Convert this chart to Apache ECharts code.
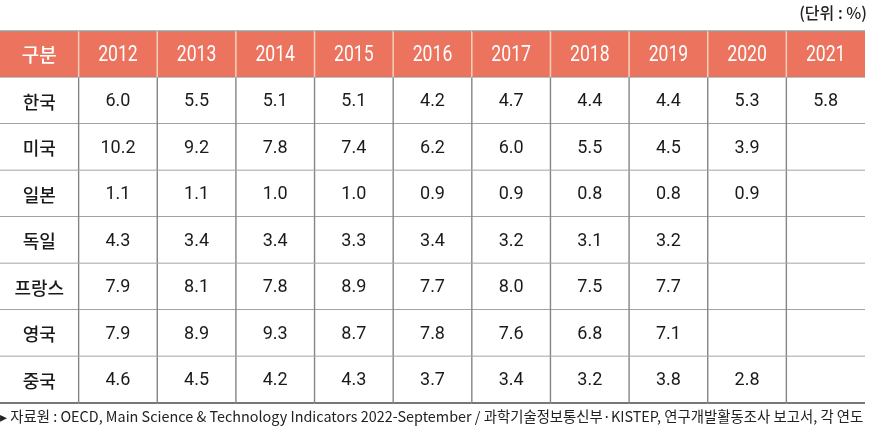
<!DOCTYPE html>
<html><head><meta charset="utf-8">
<script src="https://cdn.jsdelivr.net/npm/echarts@6/dist/echarts.min.js"></script>
<style>html,body{margin:0;padding:0;background:#fff}#c{width:878px;height:438px}</style>
</head><body><div id="c"></div>
<script>
var headerLabel = '구분';
var years = ['2012','2013','2014','2015','2016','2017','2018','2019','2020','2021'];
var countries = ['한국','미국','일본','독일','프랑스','영국','중국'];
var korea   = [6.0, 5.5, 5.1, 5.1, 4.2, 4.7, 4.4, 4.4, 5.3, 5.8];
var usa     = [10.2, 9.2, 7.8, 7.4, 6.2, 6.0, 5.5, 4.5, 3.9, null];
var japan   = [1.1, 1.1, 1.0, 1.0, 0.9, 0.9, 0.8, 0.8, 0.9, null];
var germany = [4.3, 3.4, 3.4, 3.3, 3.4, 3.2, 3.1, 3.2, null, null];
var france  = [7.9, 8.1, 7.8, 8.9, 7.7, 8.0, 7.5, 7.7, null, null];
var uk      = [7.9, 8.9, 9.3, 8.7, 7.8, 7.6, 6.8, 7.1, null, null];
var china   = [4.6, 4.5, 4.2, 4.3, 3.7, 3.4, 3.2, 3.8, 2.8, null];
var unitText = '(단위 : %)';
var sourceText = '▸ 자료원 : OECD, Main Science & Technology Indicators 2022-September / 과학기술정보통신부·KISTEP, 연구개발활동조사 보고서, 각 연도';

var rowsData = [korea, usa, japan, germany, france, uk, china];
var xCats = [headerLabel].concat(years);
var yCats = ['header'].concat(countries);

var cells = [];
xCats.forEach(function (t, c) { cells.push([c, 0, t, 'h']); });
countries.forEach(function (name, r) {
  cells.push([0, r + 1, name, 'n']);
  rowsData[r].forEach(function (v, c) {
    cells.push([c + 1, r + 1, v == null ? '' : v.toFixed(1), 'v']);
  });
});

var HEAD = '#EC735E', LINE = '#858585', HSEP = '#F6D0BE';

function renderItem(params, api) {
  var c = api.value(0), r = api.value(1);
  var d = cells[params.dataIndex];
  var center = api.coord([c, r]);
  var size = api.size([1, 1]);
  var w = size[0], h = size[1];
  var x0 = center[0] - w / 2, y0 = center[1] - h / 2;
  var kids = [];
  var isH = d[3] === 'h';
  kids.push({ type: 'rect', shape: { x: x0, y: y0, width: w, height: h },
    style: { fill: isH ? HEAD : '#fff' } });
  if (c > 0) {
    kids.push({ type: 'line', shape: { x1: x0, y1: y0, x2: x0, y2: y0 + h },
      style: { stroke: isH ? HSEP : LINE, lineWidth: isH ? 1.5 : 1.4 } });
  }
  if (isH) {
    kids.push({ type: 'line', shape: { x1: x0, y1: y0, x2: x0 + w, y2: y0 },
      style: { stroke: '#9a9a9a', lineWidth: 1.5 } });
  }
  var last = r === yCats.length - 1;
  kids.push({ type: 'line', shape: { x1: x0, y1: y0 + h, x2: x0 + w, y2: y0 + h },
    style: { stroke: last ? '#777' : LINE, lineWidth: last ? 2 : 1.5 } });
  var font, sx = 1;
  if (isH && c > 0) { font = '400 22px Roboto, sans-serif'; sx = 0.8; }
  else if (isH) { font = '500 19px "Noto Sans CJK KR", sans-serif'; }
  else if (d[3] === 'v') { font = '400 18px Roboto, sans-serif'; }
  else { font = '500 18px "Noto Sans CJK KR", sans-serif'; }
  kids.push({ type: 'text', x: center[0], y: center[1] + 1, scaleX: sx,
    style: { text: d[2], align: 'center', verticalAlign: 'middle',
      fill: isH ? '#fff' : '#1a1a1a', font: font } });
  return { type: 'group', children: kids };
}

var chart = echarts.init(document.getElementById('c'), null, { renderer: 'canvas' });
chart.setOption({
  animation: false,
  grid: { left: 0, right: 13, top: 31, bottom: 35 },
  xAxis: { type: 'category', data: xCats, show: false },
  yAxis: { type: 'category', data: yCats, inverse: true, show: false },
  graphic: [
    { type: 'text', right: 11, top: 5, style: { text: unitText, fill: '#222', font: '500 16px "Noto Sans CJK KR", sans-serif' } },
    { type: 'text', left: 0, top: 409, style: { text: sourceText, fill: '#222', font: '14.4px "Noto Sans CJK KR", sans-serif' } }
  ],
  series: [{
    type: 'custom',
    renderItem: renderItem,
    encode: { x: 0, y: 1 },
    data: cells.map(function (d) { return [d[0], d[1]]; })
  }]
});
</script></body></html>
